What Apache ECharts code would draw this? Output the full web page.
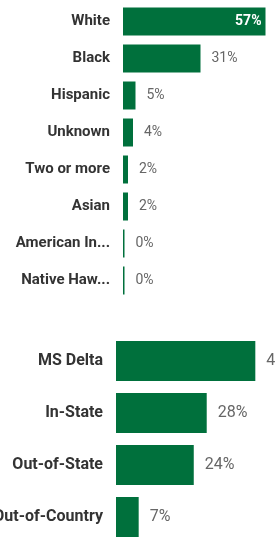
<!DOCTYPE html>
<html>
<head>
    <meta charset="utf-8">
    <title>Demographics</title>
    <style>
        html, body { margin: 0; padding: 0; background: #fff; }
        #main { width: 275px; height: 537px; }
    </style>
</head>
<body>
    <div id="main"></div>
    <script src="https://cdn.jsdelivr.net/npm/echarts@6/dist/echarts.min.js"></script>
    <script>
        // data
        var raceNames = ['White', 'Black', 'Hispanic', 'Unknown', 'Two or more', 'Asian',
            'American Indian or Alaska Native', 'Native Hawaiian or Pacific Islander'];
        var raceValues = [57, 31, 5, 4, 2, 2, 0, 0];
        var originNames = ['MS Delta', 'In-State', 'Out-of-State', 'Out-of-Country'];
        var originValues = [43, 28, 24, 7];

        var green = '#00703c';
        var font = 'Roboto';

        var chart = echarts.init(document.getElementById('main'));

        // first bar gets its label inside, white
        var raceData = raceValues.map(function (v, i) {
            if (i === 0) {
                return { value: v, label: { position: 'insideRight', color: '#fff', fontWeight: 'bold', distance: 4 } };
            }
            return v;
        });

        var option = {
            animation: false,
            grid: [
                { left: 123, top: 3, width: 250, height: 296, outerBoundsMode: 'none' },
                { left: 116, top: 335, width: 324, height: 208, outerBoundsMode: 'none' }
            ],
            xAxis: [
                { gridIndex: 0, type: 'value', min: 0, max: 100, show: false },
                { gridIndex: 1, type: 'value', min: 0, max: 100, show: false }
            ],
            yAxis: [
                {
                    gridIndex: 0, type: 'category', data: raceNames, inverse: true,
                    axisLine: { show: false }, axisTick: { show: false },
                    axisLabel: {
                        margin: 13, color: '#333', fontFamily: font, fontWeight: 'bold',
                        fontSize: 15, width: 97, overflow: 'truncate', ellipsis: '...'
                    }
                },
                {
                    gridIndex: 1, type: 'category', data: originNames, inverse: true,
                    axisLine: { show: false }, axisTick: { show: false },
                    axisLabel: {
                        margin: 13, color: '#333', fontFamily: font, fontWeight: 'bold',
                        fontSize: 16
                    }
                }
            ],
            series: [
                {
                    type: 'bar', xAxisIndex: 0, yAxisIndex: 0, data: raceData,
                    barWidth: 28, barMinHeight: 1.5,
                    itemStyle: { color: green },
                    label: {
                        show: true, position: 'right', distance: 11, formatter: '{c}%',
                        color: '#666', fontFamily: font, fontSize: 14
                    }
                },
                {
                    type: 'bar', xAxisIndex: 1, yAxisIndex: 1, data: originValues,
                    barWidth: 40,
                    itemStyle: { color: green },
                    label: {
                        show: true, position: 'right', distance: 11, formatter: '{c}%',
                        color: '#666', fontFamily: font, fontSize: 16
                    }
                }
            ]
        };
        chart.setOption(option);
    </script>
</body>
</html>
